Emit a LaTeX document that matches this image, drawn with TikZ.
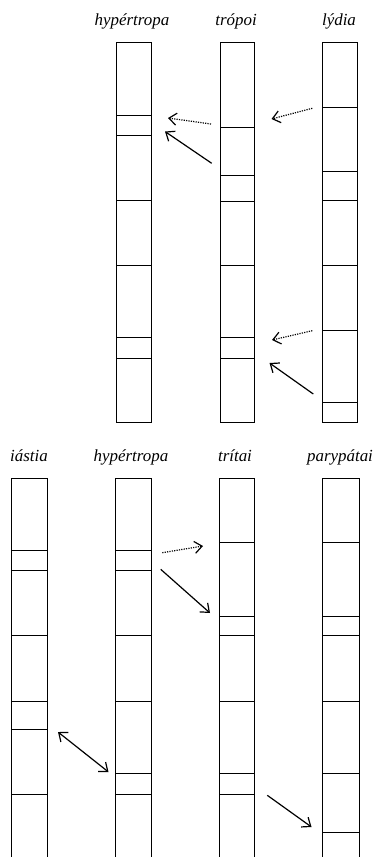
\documentclass[tikz,border=0pt]{standalone}
\usepackage{fontspec}
\setmainfont{Liberation Serif}
\usetikzlibrary{arrows.meta}
\begin{document}
\begin{tikzpicture}[x=1bp,y=-1bp,
  col/.style={line width=1.2bp},
  bar/.style={line width=1.3bp},
  lab/.style={font=\fontsize{17}{20}\selectfont\itshape, anchor=base, inner sep=0pt},
  arr/.style={line width=1.2bp, -{Straight Barb[length=7.5bp,width=12bp,line width=1.2bp]}},
  darr/.style={line width=1.2bp, {Straight Barb[length=7.5bp,width=12bp,line width=1.2bp]}-{Straight Barb[length=7.5bp,width=12bp,line width=1.2bp]}},
  dots/.style={arr, dash pattern=on 1.2bp off 1.2bp}]
\useasboundingbox (0,0) rectangle (376,857);
% ---------- top section ----------
\node[lab] (L1) at (132,25) {hypértropa};
\node[lab] (L2) at (236,25) {trópoi};
\node[lab] (L3) at (339,25) {lýdia};
% columns
\draw[col] (116.5,42.5) rectangle (151.5,422.5);
\draw[col] (220.5,42.5) rectangle (254.5,422.5);
\draw[col] (322.5,42.5) rectangle (357.5,422.5);
% bars hypertropa
\foreach \y in {115.5,135.5,200.5,265.5,337.5,358.5} \draw[bar] (116.5,\y) -- (151.5,\y);
% bars tropoi
\foreach \y in {127.5,175.5,201.5,265.5,337.5,358.5} \draw[bar] (220.5,\y) -- (254.5,\y);
% bars lydia
\foreach \y in {107.5,171.5,200.5,265.5,330.5,402.5} \draw[bar] (322.5,\y) -- (357.5,\y);
% arrows top
\coordinate (a1s) at (211,124);     \coordinate (a1e) at (168,118);
\coordinate (a2s) at (211.7,163.3); \coordinate (a2e) at (165,131.5);
\coordinate (a3s) at (312.3,108.3); \coordinate (a3e) at (271.5,119);
\coordinate (a4s) at (312.3,330.7); \coordinate (a4e) at (272,340);
\coordinate (a5s) at (313.3,394);   \coordinate (a5e) at (269.5,363);
\draw[dots] (a1s) -- (a1e);
\draw[arr] (a2s) -- (a2e);
\draw[dots] (a3s) -- (a3e);
\draw[dots] (a4s) -- (a4e);
\draw[arr] (a5s) -- (a5e);
% ---------- bottom section ----------
\node[lab] (M1) at (29,461.7) {iástia};
\node[lab] (M2) at (131,461.7) {hypértropa};
\node[lab] (M3) at (235,461.7) {trítai};
\node[lab] (M4) at (340,461.7) {parypátai};
\draw[col] (11.5,860) -- (11.5,478.5) -- (47.5,478.5) -- (47.5,860);
\draw[col] (115.5,860) -- (115.5,478.5) -- (151.5,478.5) -- (151.5,860);
\draw[col] (219.5,860) -- (219.5,478.5) -- (254.5,478.5) -- (254.5,860);
\draw[col] (322.5,860) -- (322.5,478.5) -- (359.5,478.5) -- (359.5,860);
\foreach \y in {550.5,570.5,635.5,701.5,729.5,794.5} \draw[bar] (11.5,\y) -- (47.5,\y);
\foreach \y in {550.5,570.5,635.5,701.5,773.5,794.5} \draw[bar] (115.5,\y) -- (151.5,\y);
\foreach \y in {542.5,616.5,635.5,701.5,773.5,794.5} \draw[bar] (219.5,\y) -- (254.5,\y);
\foreach \y in {542.5,616.5,635.5,701.5,773.5,832.5} \draw[bar] (322.5,\y) -- (359.5,\y);
\coordinate (b1s) at (162.3,552.7); \coordinate (b1e) at (203,546);
\coordinate (b2s) at (160.7,569.3); \coordinate (b2e) at (210,613);
\coordinate (b3s) at (58,732);      \coordinate (b3e) at (108.5,772);
\coordinate (b4s) at (267.3,795.3); \coordinate (b4e) at (311.5,827);
\draw[dots] (b1s) -- (b1e);
\draw[arr] (b2s) -- (b2e);
\draw[darr] (b3s) -- (b3e);
\draw[arr] (b4s) -- (b4e);
\end{tikzpicture}
\end{document}
